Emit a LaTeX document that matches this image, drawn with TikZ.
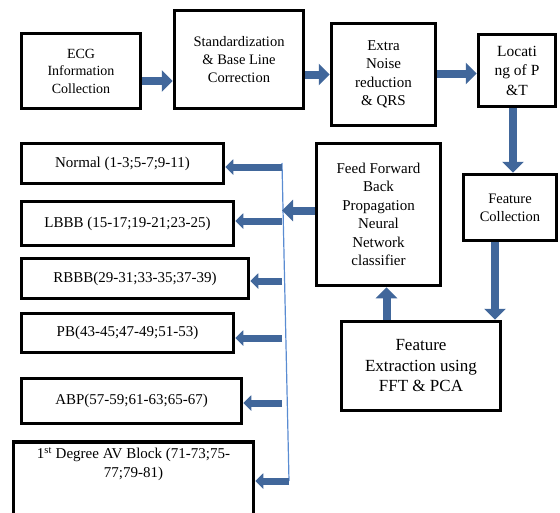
\documentclass[tikz,border=0pt]{standalone}
\usepackage{fontspec}
\setmainfont{Liberation Serif}
\usetikzlibrary{arrows.meta,positioning}
\definecolor{flowblue}{HTML}{41679B}
\definecolor{lineblue}{HTML}{5A8CD2}
\tikzset{
	block/.style = {draw, line width = 3.5pt, align = center, inner sep = 2pt,
		font = \fontsize{15}{18.5}\selectfont},
	flow/.style = {-{Triangle[length = 11pt, width = 21pt]}, line width = 8pt, color = flowblue},
	branch/.style = {-{Triangle[length = 8pt, width = 15pt]}, line width = 7pt, color = flowblue},
	bus line/.style = {line width = 1.2pt, color = lineblue}
}
\begin{document}
\begin{tikzpicture}[x = 1pt, y = -1pt]
	\useasboundingbox (0,0) rectangle (560,512);

	% processing chain
	\node [block, minimum width = 119pt, minimum height = 75pt, font = \fontsize{14}{17.5}\selectfont]
		(ecg) at (81,71) {ECG\\Information\\Collection};
	\node [block, minimum width = 129pt, minimum height = 98pt, font = \fontsize{14.5}{18}\selectfont]
		(std) at (239,59.5) {Standardization\\\& Base Line\\Correction};
	\node [block, minimum width = 104pt, minimum height = 102pt]
		(noise) at (383.5,74.5) {Extra\\Noise\\reduction\\\& QRS};
	\node [block, minimum width = 77pt, minimum height = 72pt, font = \fontsize{15.5}{19.5}\selectfont]
		(loc) at (517,70.5) {Locati\\ng of P\\\&T};
	\node [block, minimum width = 93pt, minimum height = 66pt, font = \fontsize{14.5}{18}\selectfont]
		(fc) at (510,207.5) {Feature\\Collection};
	\node [block, minimum width = 159pt, minimum height = 89pt, font = \fontsize{17}{20.5}\selectfont]
		(fe) at (421,366) {Feature\\Extraction using\\FFT \& PCA};
	\node [block, minimum width = 124pt, minimum height = 142pt]
		(ffnn) at (378.5,214.5) {Feed Forward\\Back\\Propagation\\Neural\\Network\\classifier};

	% classes
	\node [block, minimum width = 202pt, minimum height = 40pt] (normal) at (122.5,163.5) {Normal (1-3;5-7;9-11)};
	\node [block, minimum width = 212pt, minimum height = 44pt] (lbbb) at (127.5,223.5) {LBBB (15-17;19-21;23-25)};
	\node [block, minimum width = 227pt, minimum height = 40pt] (rbbb) at (135,278.5) {RBBB(29-31;33-35;37-39)};
	\node [block, minimum width = 212pt, minimum height = 39pt] (pb) at (127.5,333) {PB(43-45;47-49;51-53)};
	\node [block, minimum width = 220pt, minimum height = 45pt] (abp) at (131.5,401) {ABP(57-59;61-63;65-67)};
	\node [block, inner sep = 0pt, anchor = north] (av) at (133.5,440) {%
		\parbox[c][88pt][t]{240pt}{\centering\vspace{6pt}1\textsuperscript{st} Degree AV Block (71-73;75-\\77;79-81)}};

	% flow arrows
	\draw [flow] ([yshift = -10pt]ecg.east) -- ([yshift = -10pt]ecg.east -| std.west);
	\draw [flow] (std.east |- noise.west) -- (noise.west);
	\draw [flow] ([yshift = 1pt]noise.east) -- ([yshift = 1pt]noise.east -| loc.west);
	\draw [flow] ([xshift = -4pt]loc.south) -- ([xshift = -4pt]loc.south |- fc.north);
	\draw [flow] ([xshift = -15pt]fc.south) -- ([xshift = -15pt]fc.south |- fe.north);
	\draw [flow] ([xshift = 8pt]ffnn.south |- fe.north) -- ([xshift = 8pt]ffnn.south);

	% distribution to the classes
	\coordinate (bus top) at (282,163);
	\coordinate (bus bot) at (289,481);
	\draw [bus line] (bus top) -- (bus bot);
	\draw [flow] ([yshift = 4pt]ffnn.west) -- ([yshift = 4pt]ffnn.west -| bus top);
	\foreach \cls/\dy in {normal/-3.5, lbbb/2.5, rbbb/-2.5, pb/-5, abp/-2}{
		\draw [branch] ([yshift = \dy pt]\cls.east -| bus top) -- ([yshift = \dy pt]\cls.east);
	}
	\draw [branch] (bus bot) -- (bus bot -| av.east);
\end{tikzpicture}
\end{document}
